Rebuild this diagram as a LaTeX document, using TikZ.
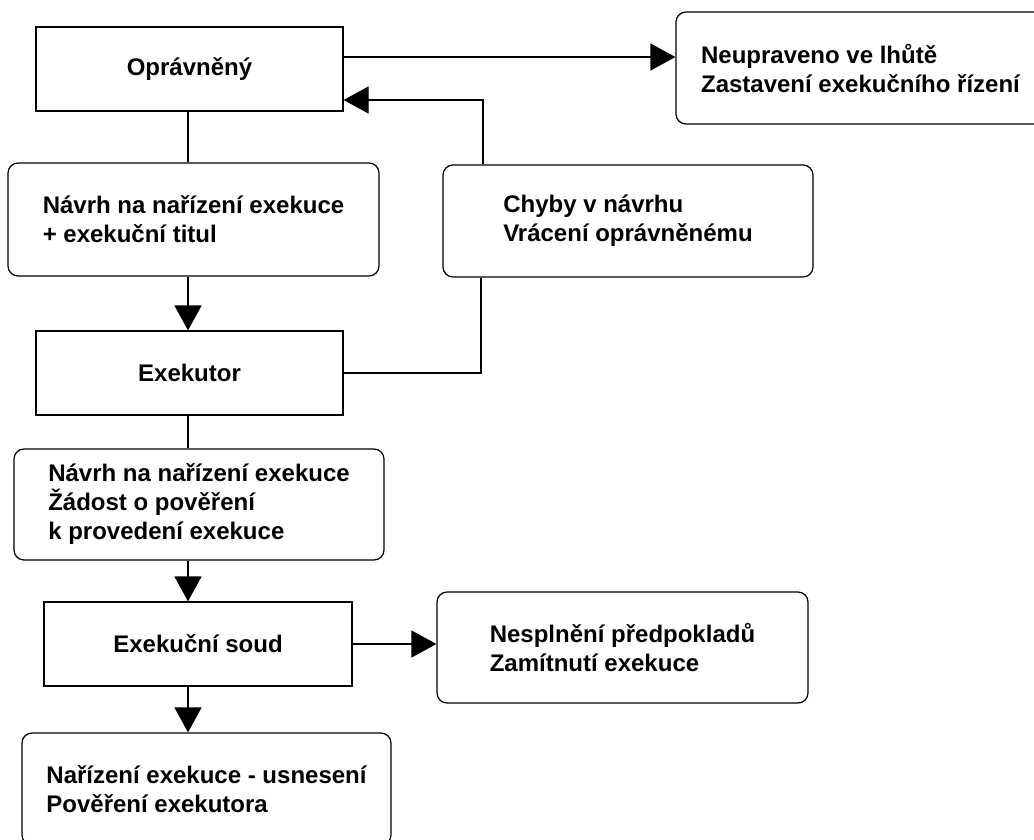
\documentclass[tikz,border=0pt]{standalone}
\usepackage{fontspec}
\setmainfont{Liberation Sans}
\usetikzlibrary{arrows.meta}

\begin{document}
\begin{tikzpicture}[x=1pt,y=-1pt,
        line/.style={line width=1.2pt},
        arr/.style={line, -{Triangle[length=25pt,width=27pt]}},
        box/.style={draw, line, align=left, inner sep=0pt,
            font=\bfseries\fontsize{24}{29}\selectfont},
        sbox/.style={box, minimum width=307pt, minimum height=84pt},
        rbox/.style={box, rounded corners=10pt, minimum width=370pt, minimum height=112pt}]
        \clip (0,0) rectangle (1034,839);
        \coordinate (spine) at (188,0);
        % boxes
        \node[sbox] (opr) at (189.5,69) {Oprávněný};
        \node[rbox, minimum width=369pt] (neup) at (860.5,68) {Neupraveno ve lhůtě\\Zastavení exekučního řízení};
        \node[rbox, minimum width=371pt, minimum height=113pt] (navrh) at (193.5,219.5) {Návrh na nařízení exekuce\\+ exekuční titul};
        \node[rbox] (chyby) at (628,221) {Chyby v návrhu\\Vrácení oprávněnému};
        \node[sbox] (exek) at (189.5,373) {Exekutor};
        \node[rbox, minimum height=111pt] (zadost) at (199,504.5) {Návrh na nařízení exekuce\\Žádost o pověření\\k provedení exekuce};
        \node[sbox, minimum width=308pt] (soud) at (198,644) {Exekuční soud};
        \node[rbox, minimum width=371pt, minimum height=111pt] (zamit) at (622.5,647.5) {Nesplnění předpokladů\\Zamítnutí exekuce};
        \node[rbox, minimum width=369pt] (narizeni) at (206.5,789) {Nařízení exekuce - usnesení\\Pověření exekutora};
        % connectors
        \draw[arr] ([yshift=12pt]opr.east) -- ([yshift=12pt]opr.east -| neup.west);
        \draw[arr] ([xshift=-145pt]chyby.north) |- ([yshift=-31pt]opr.east);
        \draw[line] (spine |- opr.south) -- (spine |- navrh.north);
        \draw[arr] (spine |- navrh.south) -- (spine |- exek.north);
        \draw[line] (exek.east) -| ([xshift=-147pt]chyby.south);
        \draw[line] (spine |- exek.south) -- (spine |- zadost.north);
        \draw[arr] (spine |- zadost.south) -- (spine |- soud.north);
        \draw[arr] (soud.east) -- (soud.east -| zamit.west);
        \draw[arr] (spine |- soud.south) -- (spine |- narizeni.north);
\end{tikzpicture}
\end{document}
